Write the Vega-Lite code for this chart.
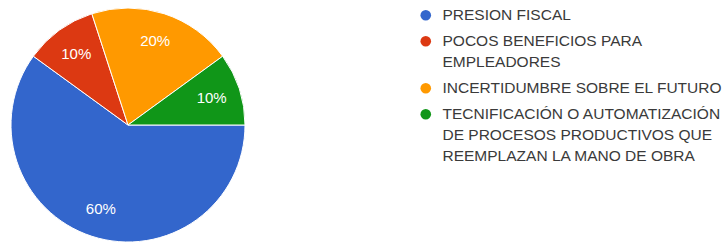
{
  "$schema": "https://vega.github.io/schema/vega-lite/v6.json",
  "width": 256,
  "height": 250,
  "autosize": {"type": "none"},
  "padding": {"left": 0, "top": 0, "right": 467, "bottom": 0},
  "background": "white",
  "config": {
    "view": {"stroke": null},
    "style": {"guide-label": {"lineHeight": 21}}
  },
  "data": {
    "values": [
      {"cat": "PRESION FISCAL", "value": 60, "order": 1, "label": "60%"},
      {"cat": "POCOS BENEFICIOS PARA\nEMPLEADORES", "value": 10, "order": 2, "label": "10%"},
      {"cat": "INCERTIDUMBRE SOBRE EL FUTURO", "value": 20, "order": 3, "label": "20%"},
      {"cat": "TECNIFICACIÓN O AUTOMATIZACIÓN\nDE PROCESOS PRODUCTIVOS QUE\nREEMPLAZAN LA MANO DE OBRA", "value": 10, "order": 4, "label": "10%"}
    ]
  },
  "encoding": {
    "theta": {"field": "value", "type": "quantitative", "stack": true, "scale": {"range": [1.5707963, 7.8539816]}},
    "order": {"field": "order", "type": "quantitative"}
  },
  "layer": [
    {
      "mark": {"type": "arc", "outerRadius": 117, "stroke": "white", "strokeWidth": 1},
      "encoding": {
        "color": {
          "field": "cat",
          "type": "nominal",
          "sort": {"field": "order"},
          "scale": {
            "domain": [
              "PRESION FISCAL",
              "POCOS BENEFICIOS PARA\nEMPLEADORES",
              "INCERTIDUMBRE SOBRE EL FUTURO",
              "TECNIFICACIÓN O AUTOMATIZACIÓN\nDE PROCESOS PRODUCTIVOS QUE\nREEMPLAZAN LA MANO DE OBRA"
            ],
            "range": ["#3366cc", "#dc3912", "#ff9900", "#109618"]
          },
          "legend": {
            "orient": "none",
            "legendX": 418,
            "legendY": 7.5,
            "title": null,
            "padding": 0,
            "symbolType": "circle",
            "symbolSize": 113,
            "symbolStrokeWidth": 0,
            "labelFont": "Liberation Sans",
            "labelFontSize": 15.5,
            "labelColor": "#3a3a3a",
            "labelOffset": 9,
            "labelLimit": 400,
            "rowPadding": 9,
            "labelExpr": "split(datum.label, '\\n')"
          }
        }
      }
    },
    {
      "mark": {"type": "text", "radius": 88, "fill": "white", "fontSize": 15, "font": "Liberation Sans"},
      "encoding": {
        "text": {"field": "label", "type": "nominal"}
      }
    }
  ]
}
